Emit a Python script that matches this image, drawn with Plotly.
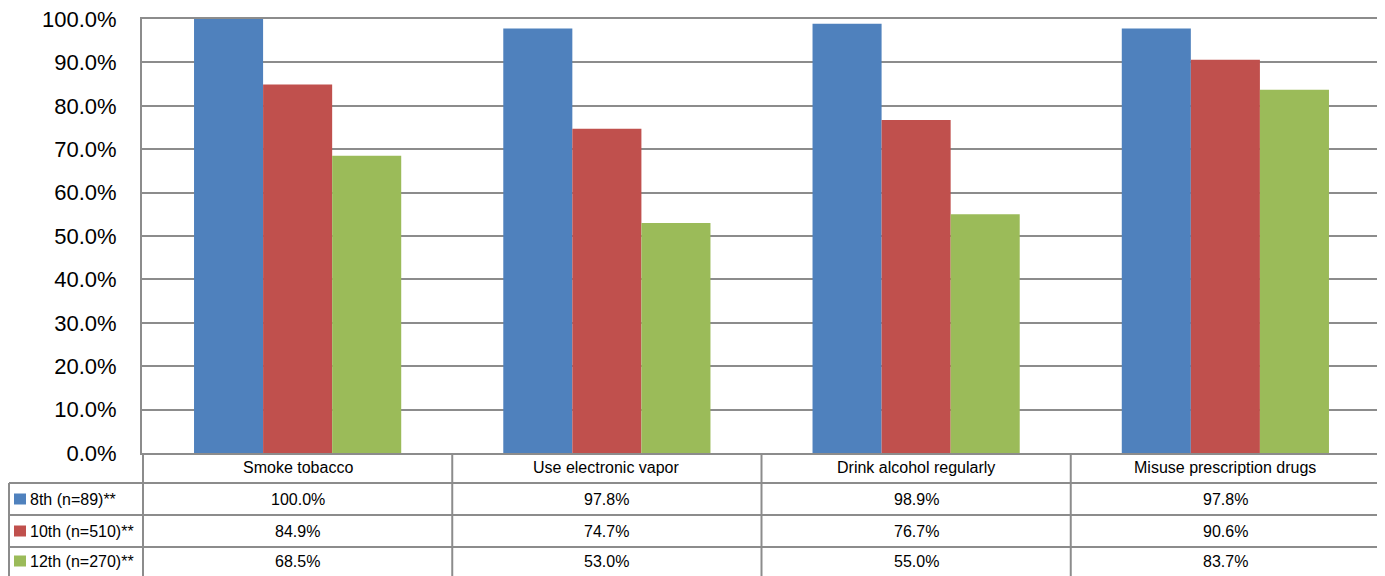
import plotly.graph_objects as go

categories = ["Smoke tobacco", "Use electronic vapor", "Drink alcohol regularly", "Misuse prescription drugs"]
series_names = ["8th (n=89)**", "10th (n=510)**", "12th (n=270)**"]
grade8 = [100.0, 97.8, 98.9, 97.8]
grade10 = [84.9, 74.7, 76.7, 90.6]
grade12 = [68.5, 53.0, 55.0, 83.7]
colors = ["#4F81BD", "#C0504D", "#9BBB59"]
y_ticks = [0, 10, 20, 30, 40, 50, 60, 70, 80, 90, 100]

O = 8  # default page body margin
W, H = 1385 - O, 576 - O
ML, MR, MT, MB = 142 - O, 4, 19 - O, 123
PH = H - MT - MB  # plot height in px
PW = W - ML - MR

def py(p):  # page pixel y -> paper y
    return (H - MB - (p - O)) / PH

def px_(p):  # page pixel x -> paper x
    return ((p - O) - ML) / PW

fig = go.Figure()
all_series = [grade8, grade10, grade12]
for name, vals, c in zip(series_names, all_series, colors):
    fig.add_trace(go.Bar(x=categories, y=vals, name=name, marker=dict(color=c, line=dict(width=0)),
                         showlegend=False))

line_col = "#8C8C8C"
shapes = []
annotations = []
left_edge = px_(9)
# horizontal table lines
row_lines = [483, 515, 547]
for yl in row_lines:
    shapes.append(dict(type="line", xref="paper", yref="paper", x0=left_edge, x1=1.0,
                       y0=py(yl), y1=py(yl), line=dict(color=line_col, width=2)))
# vertical table lines at category boundaries
n = len(categories)
for i in range(n + 1):
    shapes.append(dict(type="line", xref="x", yref="paper", x0=i - 0.5, x1=i - 0.5,
                       y0=0, y1=py(576), line=dict(color=line_col, width=2)))
# left border of label column
shapes.append(dict(type="line", xref="paper", yref="paper", x0=left_edge, x1=left_edge,
                   y0=py(483), y1=py(576), line=dict(color=line_col, width=2)))

font_tbl = dict(family="Liberation Sans, Arial, sans-serif", size=16, color="#000000")
# header row
for cat in categories:
    annotations.append(dict(x=cat, y=py(468), xref="x", yref="paper", text=cat,
                            showarrow=False, font=font_tbl, xanchor="center", yanchor="middle"))
row_centers = [499, 531, 561]
for r, (name, vals, c) in enumerate(zip(series_names, all_series, colors)):
    yc = row_centers[r]
    shapes.append(dict(type="rect", xref="paper", yref="paper", x0=px_(14), x1=px_(26),
                       y0=py(yc + 5.5), y1=py(yc - 5.5), fillcolor=c, line=dict(width=0)))
    annotations.append(dict(x=px_(28), y=py(yc), xref="paper", yref="paper", text=name,
                            showarrow=False, font=font_tbl, xanchor="left", yanchor="middle"))
    for cat, v in zip(categories, vals):
        annotations.append(dict(x=cat, y=py(yc), xref="x", yref="paper", text=f"{v:.1f}%",
                                showarrow=False, font=font_tbl, xanchor="center", yanchor="middle"))

fig.update_layout(
    width=W, height=H,
    margin=dict(l=ML, r=MR, t=MT, b=MB, pad=0, autoexpand=False),
    paper_bgcolor="white", plot_bgcolor="white",
    barmode="group", bargap=0.33, bargroupgap=0,
    shapes=shapes, annotations=annotations,
    font=dict(family="Liberation Sans, Arial, sans-serif", color="#000000"),
)
fig.update_xaxes(showticklabels=False, showgrid=False, showline=True, linecolor=line_col,
                 linewidth=2, ticks="", zeroline=False, automargin=False, mirror=True)
fig.update_yaxes(range=[0, 100], tickvals=y_ticks, ticktext=[f"{t:.1f}%" for t in y_ticks],
                 showgrid=True, gridcolor=line_col, gridwidth=2, showline=True,
                 linecolor=line_col, linewidth=2, zeroline=False, ticks="", automargin=False,
                 ticklabeloverflow="allow",
                 ticklabelstandoff=19, tickfont=dict(size=22, family="Liberation Sans, Arial, sans-serif"))

fig.write_html("out.html")
